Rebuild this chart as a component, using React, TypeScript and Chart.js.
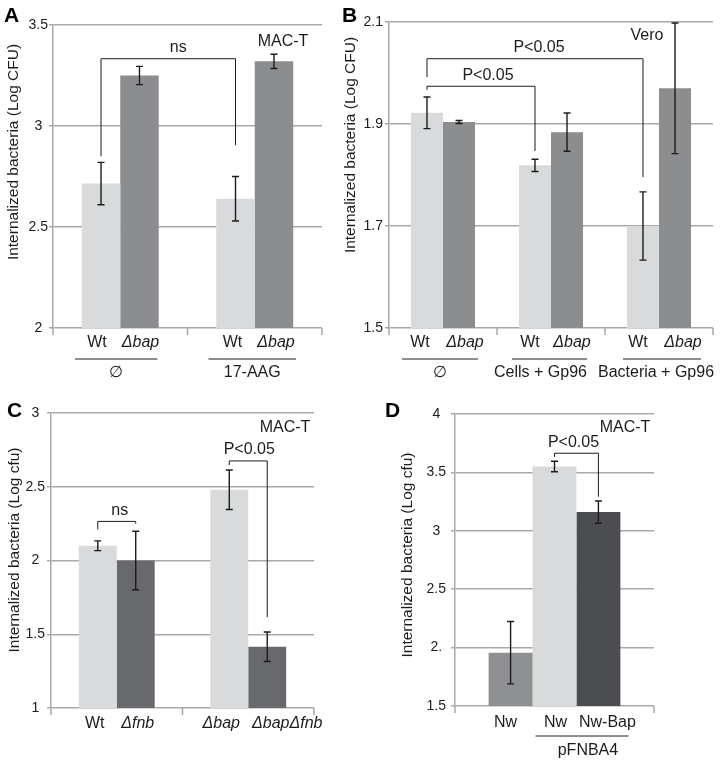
import React, { useEffect, useRef } from "react";
import { Chart, registerables } from "chart.js";

Chart.register(...registerables);

const FONT = '"Liberation Sans", Arial, Helvetica, sans-serif';
const LIGHT = "#d9dadc";
const MID = "#8c8d8f";
const DARK_C = "#68696c";
const DARK_D = "#4c4d50";
const GRID = "#a9a9a9";
const INK = "#1c1c1c";
const W = 721;
const H = 763;

// ---------- Panel A (MAC-T, 17-AAG) ----------
const groupsA = ["∅", "17-AAG"];
const wtA = [2.715, 2.64];
const wtErrA = [0.105, 0.11];
const bapA = [3.25, 3.32];
const bapErrA = [0.045, 0.035];
const yTicksA = ["2", "2.5", "3", "3.5"];

// ---------- Panel B (Vero, Gp96) ----------
const groupsB = ["∅", "Cells + Gp96", "Bacteria + Gp96"];
const wtB = [1.922, 1.819, 1.70];
const wtErrB = [0.031, 0.012, 0.067];
const bapB = [1.904, 1.884, 1.97];
const bapErrB = [0.003, 0.0375, 0.128];
const yTicksB = ["1.5", "1.7", "1.9", "2.1"];

// ---------- Panel C (MAC-T, fnb) ----------
const catsC = ["Wt/Δfnb", "Δbap/ΔbapΔfnb"];
const lightLabelsC = ["Wt", "Δbap"];
const darkLabelsC = ["Δfnb", "ΔbapΔfnb"];
const lightC = [2.10, 2.48];
const lightErrC = [0.033, 0.134];
const darkC = [2.0, 1.415];
const darkErrC = [0.198, 0.10];
const yTicksC = ["1", "1.5", "2", "2.5", "3"];

// ---------- Panel D (MAC-T, pFNBA4) ----------
const strainsD = ["Nw", "Nw", "Nw-Bap"];
const valuesD = [1.956, 3.55, 3.16];
const errD = [0.267, 0.045, 0.095];
const yTicksD = ["1.5", "2.", "2.5", "3", "3.5", "4"];

type DS = { data: number[]; err: number[]; color: string; labels: string[]; labelDx: number[] };
type Bracket = { a: [number, number]; b: [number, number]; y: number; ya: number; yb: number; text: string; dx: number };
type Group = { a: [number, number]; b: [number, number]; off0: number; off1: number; text: string; dx: number };
type Panel = {
  key: string;
  letter: string; letterX: number; letterY: number;
  title: string; titleX: number; titleY: number;
  area: { left: number; top: number; right: number; bottom: number };
  yMin: number; yMax: number; yStep: number; yTicks: string[]; tickPad: number;
  categories: string[];
  datasets: DS[];
  catPct: number;
  groups: Group[];
  brackets: Bracket[];
  note: { text: string; x: number; y: number };
  labelDy: number; lineDy: number; groupDy: number;
};

const panels: Panel[] = [
  {
    key: "A", letter: "A", letterX: 4, letterY: 22,
    title: "Internalized bacteria (Log CFU)", titleX: 14, titleY: 152,
    area: { left: 53, top: 25, right: 322, bottom: 328 },
    yMin: 2, yMax: 3.5, yStep: 0.5, yTicks: yTicksA, tickPad: 1,
    categories: groupsA,
    datasets: [
      { data: wtA, err: wtErrA, color: LIGHT, labels: ["Wt", "Wt"], labelDx: [-4, -3] },
      { data: bapA, err: bapErrA, color: MID, labels: ["Δbap", "Δbap"], labelDx: [1, 2] },
    ],
    catPct: 0.572,
    groups: [
      { a: [0, 0], b: [1, 0], off0: -26, off1: 18, text: groupsA[0], dx: 0 },
      { a: [0, 1], b: [1, 1], off0: -27, off1: 22, text: groupsA[1], dx: 0 },
    ],
    brackets: [{ a: [0, 0], b: [0, 1], y: 3.333, ya: 2.85, yb: 2.905, text: "ns", dx: 10 }],
    note: { text: "MAC-T", x: 283, y: 42 },
    labelDy: 15, lineDy: 31, groupDy: 45,
  },
  {
    key: "B", letter: "B", letterX: 342, letterY: 22,
    title: "Internalized bacteria (Log CFU)", titleX: 351, titleY: 145,
    area: { left: 389, top: 22, right: 713, bottom: 328 },
    yMin: 1.5, yMax: 2.1, yStep: 0.2, yTicks: yTicksB, tickPad: 2,
    categories: groupsB,
    datasets: [
      { data: wtB, err: wtErrB, color: LIGHT, labels: ["Wt", "Wt", "Wt"], labelDx: [-7, -5, -5] },
      { data: bapB, err: bapErrB, color: MID, labels: ["Δbap", "Δbap", "Δbap"], labelDx: [6, 5, 8] },
    ],
    catPct: 0.593,
    groups: [
      { a: [0, 0], b: [1, 0], off0: -25, off1: 19, text: groupsB[0], dx: 0 },
      { a: [0, 1], b: [1, 1], off0: -23, off1: 20, text: groupsB[1], dx: -9 },
      { a: [0, 2], b: [1, 2], off0: -20, off1: 26, text: groupsB[2], dx: -6 },
    ],
    brackets: [
      { a: [0, 0], b: [0, 2], y: 2.028, ya: 1.992, yb: 1.796, text: "P<0.05", dx: 4 },
      { a: [0, 0], b: [0, 1], y: 1.974, ya: 1.967, yb: 1.847, text: "P<0.05", dx: 7 },
    ],
    note: { text: "Vero", x: 647, y: 36 },
    labelDy: 15, lineDy: 31, groupDy: 45,
  },
  {
    key: "C", letter: "C", letterX: 7, letterY: 417,
    title: "Internalized bacteria (Log cfu)", titleX: 14.5, titleY: 550,
    area: { left: 51, top: 413, right: 314, bottom: 708 },
    yMin: 1, yMax: 3, yStep: 0.5, yTicks: yTicksC, tickPad: 2,
    categories: catsC,
    datasets: [
      { data: lightC, err: lightErrC, color: LIGHT, labels: lightLabelsC, labelDx: [-3, -8] },
      { data: darkC, err: darkErrC, color: DARK_C, labels: darkLabelsC, labelDx: [2, 20] },
    ],
    catPct: 0.577,
    groups: [],
    brackets: [
      { a: [0, 0], b: [1, 0], y: 2.265, ya: 2.211, yb: 2.25, text: "ns", dx: 3 },
      { a: [0, 1], b: [1, 1], y: 2.675, ya: 2.646, yb: 1.616, text: "P<0.05", dx: 1 },
    ],
    note: { text: "MAC-T", x: 285, y: 428 },
    labelDy: 15.5, lineDy: 31, groupDy: 45,
  },
  {
    key: "D", letter: "D", letterX: 385, letterY: 417,
    title: "Internalized bacteria (Log cfu)", titleX: 408, titleY: 555,
    area: { left: 455, top: 414, right: 654, bottom: 706 },
    yMin: 1.5, yMax: 4, yStep: 0.5, yTicks: yTicksD, tickPad: 5,
    categories: [""],
    datasets: [
      { data: [valuesD[0]], err: [errD[0]], color: "#8e8f91", labels: [strainsD[0]], labelDx: [-5] },
      { data: [valuesD[1]], err: [errD[1]], color: LIGHT, labels: [strainsD[1]], labelDx: [1] },
      { data: [valuesD[2]], err: [errD[2]], color: DARK_D, labels: [strainsD[2]], labelDx: [9] },
    ],
    catPct: 0.662,
    groups: [{ a: [1, 0], b: [2, 0], off0: -19, off1: 30, text: "pFNBA4", dx: 6 }],
    brackets: [{ a: [1, 0], b: [2, 0], y: 3.664, ya: 3.632, yb: 3.292, text: "P<0.05", dx: -3 }],
    note: { text: "MAC-T", x: 625, y: 428 },
    labelDy: 16.5, lineDy: 30, groupDy: 45,
  },
];

function makeDecor(p: Panel) {
  return {
    id: "decor" + p.key,
    afterDatasetsDraw(chart: any) {
      const ctx: CanvasRenderingContext2D = chart.ctx;
      const ys = chart.scales.y;
      const area = chart.chartArea;
      const bx = (ds: number, i: number) => chart.getDatasetMeta(ds).data[i].x;
      ctx.save();

      // category boundary ticks below the axis
      const n = p.categories.length;
      ctx.strokeStyle = GRID;
      ctx.lineWidth = 1.5;
      ctx.beginPath();
      for (let k = 0; k <= n; k++) {
        const x = area.left + (k * (area.right - area.left)) / n;
        ctx.moveTo(x, area.bottom);
        ctx.lineTo(x, area.bottom + 7);
      }
      ctx.stroke();

      // error bars
      ctx.strokeStyle = INK;
      ctx.lineWidth = 1.4;
      p.datasets.forEach((d, di) => {
        d.data.forEach((v, i) => {
          const x = bx(di, i);
          const yHi = ys.getPixelForValue(v + d.err[i]);
          const yLo = ys.getPixelForValue(v - d.err[i]);
          ctx.beginPath();
          ctx.moveTo(x, yHi);
          ctx.lineTo(x, yLo);
          ctx.moveTo(x - 3.5, yHi);
          ctx.lineTo(x + 3.5, yHi);
          ctx.moveTo(x - 3.5, yLo);
          ctx.lineTo(x + 3.5, yLo);
          ctx.stroke();
        });
      });

      // significance brackets
      ctx.lineWidth = 1;
      ctx.fillStyle = INK;
      ctx.textAlign = "center";
      ctx.textBaseline = "middle";
      ctx.font = `16px ${FONT}`;
      p.brackets.forEach((b) => {
        const x0 = bx(b.a[0], b.a[1]);
        const x1 = bx(b.b[0], b.b[1]);
        const y = ys.getPixelForValue(b.y);
        ctx.beginPath();
        ctx.moveTo(x0, ys.getPixelForValue(b.ya));
        ctx.lineTo(x0, y);
        ctx.lineTo(x1, y);
        ctx.lineTo(x1, ys.getPixelForValue(b.yb));
        ctx.stroke();
        ctx.fillText(b.text, (x0 + x1) / 2 + b.dx, y - 11);
      });

      // per-bar labels
      p.datasets.forEach((d, di) => {
        d.labels.forEach((lab, i) => {
          const x = bx(di, i) + (d.labelDx[i] || 0);
          ctx.font = `${lab.includes("Δ") ? "italic " : ""}16px ${FONT}`;
          ctx.fillText(lab, x, area.bottom + p.labelDy);
        });
      });

      // group underlines + group labels
      ctx.font = `16px ${FONT}`;
      p.groups.forEach((g) => {
        const x0 = bx(g.a[0], g.a[1]) + g.off0;
        const x1 = bx(g.b[0], g.b[1]) + g.off1;
        const y = area.bottom + p.lineDy;
        ctx.beginPath();
        ctx.moveTo(x0, y);
        ctx.lineTo(x1, y);
        ctx.stroke();
        ctx.fillText(g.text, (x0 + x1) / 2 + g.dx, area.bottom + p.groupDy);
      });

      // cell line note
      ctx.fillText(p.note.text, p.note.x, p.note.y);

      // y title
      ctx.save();
      ctx.translate(p.titleX, p.titleY);
      ctx.rotate(-Math.PI / 2);
      ctx.font = `15.5px ${FONT}`;
      ctx.fillText(p.title, 0, 0);
      ctx.restore();

      // panel letter
      ctx.textAlign = "left";
      ctx.textBaseline = "alphabetic";
      ctx.font = `bold 21px ${FONT}`;
      ctx.fillStyle = "#000";
      ctx.fillText(p.letter, p.letterX, p.letterY);

      ctx.restore();
    },
  };
}

function PanelChart({ p }: { p: Panel }) {
  const ref = useRef<HTMLCanvasElement | null>(null);
  useEffect(() => {
    if (!ref.current) return;
    const chart = new Chart(ref.current, {
      type: "bar",
      data: {
        labels: p.categories,
        datasets: p.datasets.map((d) => ({
          data: d.data,
          backgroundColor: d.color,
          borderWidth: 0,
          barPercentage: 1,
          categoryPercentage: p.catPct,
        })),
      },
      options: {
        responsive: false,
        animation: false,
        events: [],
        layout: {
          padding: { left: 0, top: p.area.top, right: W - p.area.right, bottom: H - p.area.bottom },
        },
        plugins: { legend: { display: false }, tooltip: { enabled: false }, title: { display: false } },
        scales: {
          x: { display: false },
          y: {
            min: p.yMin,
            max: p.yMax,
            afterFit: (s: any) => {
              s.width = p.area.left;
            },
            ticks: {
              stepSize: p.yStep,
              crossAlign: "center",
              padding: p.tickPad,
              color: INK,
              font: { family: FONT, size: 14 },
              callback: (v: any, i: number) => (p.yTicks[i] !== undefined ? p.yTicks[i] : String(v)),
            },
            grid: { color: GRID, lineWidth: 1.5, tickLength: 4, drawTicks: true },
            border: { display: true, color: GRID, width: 1.5 },
          },
        },
      },
      plugins: [makeDecor(p)],
    } as any);
    return () => chart.destroy();
  }, [p]);
  return (
    <canvas
      ref={ref}
      width={W}
      height={H}
      style={{ position: "absolute", left: 0, top: 0, width: W, height: H }}
    />
  );
}

export default function App() {
  return (
    <div style={{ position: "absolute", left: 0, top: 0, width: W, height: H, background: "#fff", overflow: "hidden" }}>
      {panels.map((p) => (
        <PanelChart key={p.key} p={p} />
      ))}
    </div>
  );
}
